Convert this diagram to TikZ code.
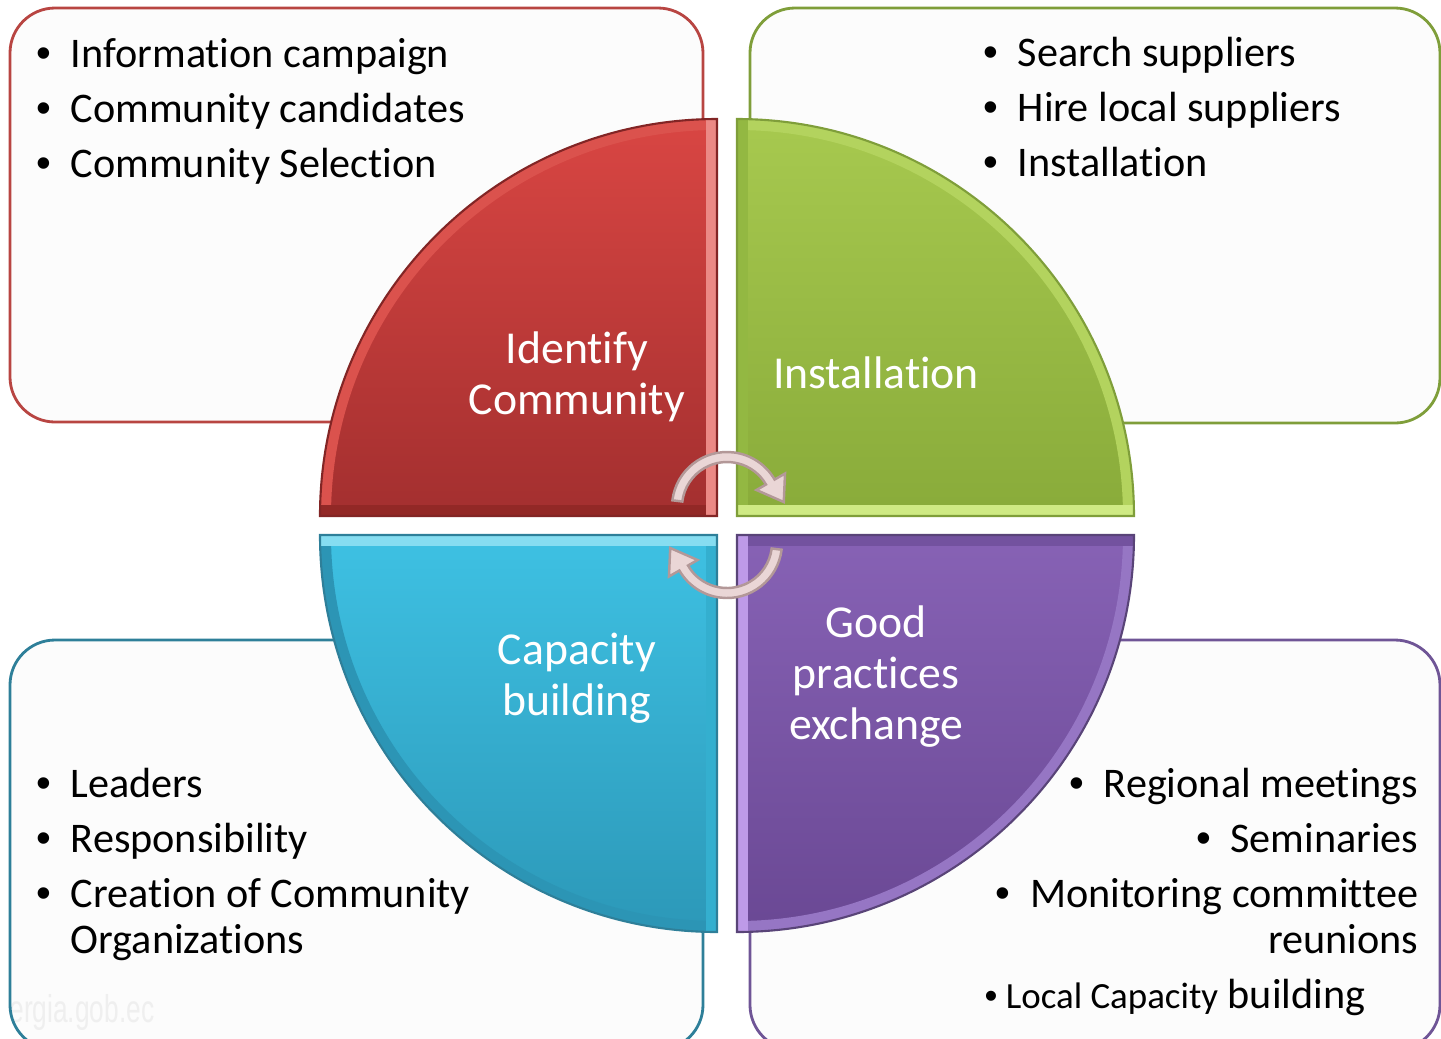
\documentclass[tikz,border=0pt]{standalone}
\usepackage{fontspec}
\setmainfont{Carlito}[Ligatures=NoCommon]
\newfontfamily\bulletfont{Liberation Sans}
\usepackage{tikz}

\definecolor{boxfill}{HTML}{FBFBFB}
\definecolor{redline}{HTML}{B84542}
\definecolor{greenline}{HTML}{7F9E3A}
\definecolor{blueline}{HTML}{2E7F99}
\definecolor{purpleline}{HTML}{6F5596}
\definecolor{redtop}{HTML}{D94643}
\definecolor{redbot}{HTML}{A32F2F}
\definecolor{redarc}{HTML}{DB524D}
\definecolor{redside}{HTML}{EB8985}
\definecolor{redlow}{HTML}{922826}
\definecolor{greentop}{HTML}{A7C94F}
\definecolor{greenbot}{HTML}{89AB3A}
\definecolor{greenarc}{HTML}{B3D35E}
\definecolor{greenside}{HTML}{93B842}
\definecolor{greenlow}{HTML}{CFEA84}
\definecolor{bluetop}{HTML}{3EC1E3}
\definecolor{bluebot}{HTML}{2C98B8}
\definecolor{bluearc}{HTML}{2C95B5}
\definecolor{blueside}{HTML}{34AFCF}
\definecolor{bluehigh}{HTML}{86DDF1}
\definecolor{purpletop}{HTML}{8762B5}
\definecolor{purplebot}{HTML}{6A4894}
\definecolor{purplearc}{HTML}{9676C4}
\definecolor{purpleside}{HTML}{BE9AE8}
\definecolor{purplehigh}{HTML}{73529F}
\definecolor{arrowfill}{HTML}{EAD6D6}
\definecolor{arrowline}{HTML}{B39898}

\newcommand{\bul}{\makebox[9.7pt][l]{\bulletfont\textbullet}}

\tikzset{
  listitem/.style={font=\fontsize{12pt}{14pt}\selectfont, inner sep=0pt},
  quartertext/.style={font=\fontsize{13pt}{14.5pt}\selectfont, text=white,
    align=center, inner sep=0pt},
  listbox/.style={line width=0.8pt, fill=boxfill, fill opacity=0.78,
    rounded corners=0.45cm},
  rim/.style={line width=0.22cm},
  swirl/.style={fill=arrowfill, draw=arrowline, line width=0.7pt}
}

\begin{document}
\begin{tikzpicture}[x=0.01cm, y=-0.01cm]
  \useasboundingbox (0,0) rectangle (1441,1038);

  % watermark, shows through the box
  \node[text=gray!45, font=\bulletfont\fontsize{11pt}{13pt}\selectfont,
    inner sep=0pt, anchor=base east] (mark) at (155,1022)
    {\scalebox{0.68}[1]{ergia.gob.ec}};

  % the four boxes
  \draw[listbox, draw=redline] (10,8) rectangle (703,422);
  \draw[listbox, draw=greenline] (750,8) rectangle (1440,423);
  \draw[listbox, draw=blueline] (10,640) rectangle (703,1050);
  \draw[listbox, draw=purpleline] (750,640) rectangle (1440,1050);

  % red quarter
  \begin{scope}
    \clip (717,516) -- (320,516) arc[start angle=180, end angle=270, radius=397] -- cycle;
    \fill[top color=redtop, bottom color=redbot] (320,119) rectangle (717,516);
    \draw[rim, redarc] (320,516) arc[start angle=180, end angle=270, radius=397];
    \draw[rim, redlow] (320,516) -- (717,516);
    \draw[rim, redside] (717,119) -- (717,516);
  \end{scope}
  \draw[redbot!80!black, line width=0.6pt]
    (717,516) -- (320,516) arc[start angle=180, end angle=270, radius=397] -- cycle;

  % green quarter
  \begin{scope}
    \clip (737,516) -- (737,119) arc[start angle=270, end angle=360, radius=397] -- cycle;
    \fill[top color=greentop, bottom color=greenbot] (737,119) rectangle (1134,516);
    \draw[rim, greenarc] (737,119) arc[start angle=270, end angle=360, radius=397];
    \draw[rim, greenside] (737,119) -- (737,516);
    \draw[rim, greenlow] (737,516) -- (1134,516);
  \end{scope}
  \draw[greenline, line width=0.6pt]
    (737,516) -- (737,119) arc[start angle=270, end angle=360, radius=397] -- cycle;

  % blue quarter
  \begin{scope}
    \clip (717,535) -- (320,535) arc[start angle=180, end angle=90, radius=397] -- cycle;
    \fill[top color=bluetop, bottom color=bluebot] (320,535) rectangle (717,932);
    \draw[rim, bluearc] (320,535) arc[start angle=180, end angle=90, radius=397];
    \draw[rim, blueside] (717,535) -- (717,932);
    \draw[rim, bluehigh] (320,535) -- (717,535);
  \end{scope}
  \draw[blueline, line width=0.6pt]
    (717,535) -- (320,535) arc[start angle=180, end angle=90, radius=397] -- cycle;

  % purple quarter
  \begin{scope}
    \clip (737,535) -- (1134,535) arc[start angle=0, end angle=90, radius=397] -- cycle;
    \fill[top color=purpletop, bottom color=purplebot] (737,535) rectangle (1134,932);
    \draw[rim, purplearc] (1134,535) arc[start angle=0, end angle=90, radius=397];
    \draw[rim, purplehigh] (737,535) -- (1134,535);
    \draw[rim, purpleside] (737,535) -- (737,932);
  \end{scope}
  \draw[purpleline!80!black, line width=0.6pt]
    (737,535) -- (1134,535) arc[start angle=0, end angle=90, radius=397] -- cycle;

  % the two turning arrows
  \begin{scope}[shift={(727,507)}]
    \path[swirl] (187:55) arc[start angle=187, end angle=330, radius=55]
      -- (330:67) -- (355:57) -- (330:34) -- (330:45)
      arc[start angle=330, end angle=187, radius=45] -- cycle;
  \end{scope}
  \begin{scope}[shift={(727,543)}]
    \path[swirl] (7:55) arc[start angle=7, end angle=150, radius=55]
      -- (150:67) -- (175:57) -- (150:34) -- (150:45)
      arc[start angle=150, end angle=7, radius=45] -- cycle;
  \end{scope}

  % quarter labels
  \node[quartertext] (identify) at (577,377) {Identify\\Community};
  \node[quartertext, anchor=base] (install) at (876,388) {Installation};
  \node[quartertext] (capacity) at (577,678) {Capacity\\building};
  \node[quartertext] (practices) at (876,677) {Good\\practices\\exchange};

  % top left list
  \node[listitem, anchor=base west] (tl1) at (36,67) {\bul Information campaign};
  \node[listitem, anchor=base west] (tl2) at (36,122) {\bul Community candidates};
  \node[listitem, anchor=base west] (tl3) at (36,177) {\bul Community Selection};

  % top right list
  \node[listitem, anchor=base west] (tr1) at (983,66) {\bul Search suppliers};
  \node[listitem, anchor=base west] (tr2) at (983,121) {\bul Hire local suppliers};
  \node[listitem, anchor=base west] (tr3) at (983,176) {\bul Installation};

  % bottom left list
  \node[listitem, anchor=base west] (bl1) at (36,797) {\bul Leaders};
  \node[listitem, anchor=base west] (bl2) at (36,852) {\bul Responsibility};
  \node[listitem, anchor=base west] (bl3) at (36,907) {\bul Creation of Community};
  \node[listitem, anchor=base west] (bl4) at (70,953) {Organizations};

  % bottom right list
  \node[listitem, anchor=base east] (br1) at (1419,797) {\bul Regional meetings};
  \node[listitem, anchor=base east] (br2) at (1419,852) {\bul Seminaries};
  \node[listitem, anchor=base east] (br3) at (1419,907) {\bul Monitoring committee};
  \node[listitem, anchor=base east] (br4) at (1419,953) {reunions};
  \node[listitem, anchor=base west] (br5) at (984,1008)
    {{\fontsize{10.5pt}{12pt}\selectfont\makebox[6pt][l]{\bulletfont\textbullet}Local Capacity} building};
\end{tikzpicture}
\end{document}
